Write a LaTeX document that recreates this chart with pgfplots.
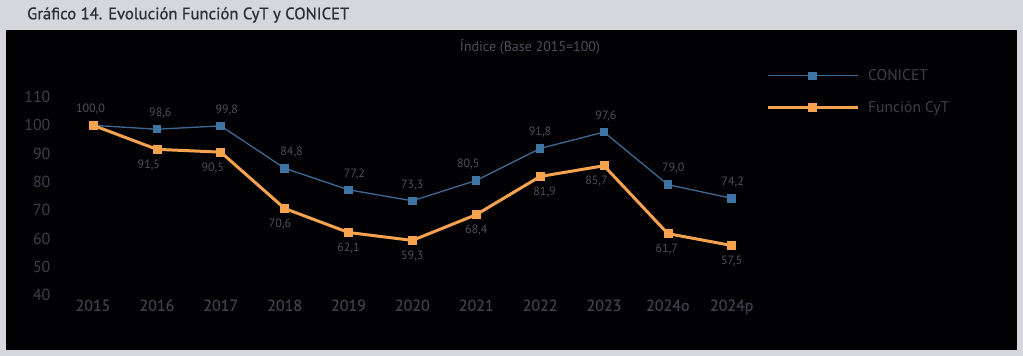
\documentclass[border=0pt]{standalone}
\usepackage{fontspec}
\setmainfont{PT Sans}
\usepackage{pgfplots}
\usepackage{pgfplotstable}
\pgfplotsset{compat=1.18}
\definecolor{framegray}{HTML}{D6D7DC}
\definecolor{titletxt}{HTML}{2C2E36}
\definecolor{panel}{HTML}{020204}
\definecolor{ticktxt}{HTML}{3E3E48}
\definecolor{lbltxt}{HTML}{4E4E58}
\definecolor{conicet}{HTML}{3D6994}
\definecolor{conicetm}{HTML}{4074A4}
\definecolor{cyt}{HTML}{F6A24E}
\pgfplotstableread{
x conicet dx
0 100.0 -2.5
1 98.6 3.5
2 99.8 6
3 84.8 7
4 77.2 6
5 73.3 0
6 80.5 -8
7 91.8 0
8 97.6 2
9 79.0 5.5
10 74.2 1
}\conicettable
\pgfplotstableread{
x cyt
0 100.0
1 91.5
2 90.5
3 70.6
4 62.1
5 59.3
6 68.4
7 81.9
8 85.7
9 61.7
10 57.5
}\cyttable
\pgfplotstableread{
x cyt dx
1 91.5 -8
2 90.5 -8
3 70.6 -4.5
4 62.1 0
5 59.3 0
6 68.4 0
7 81.9 4.5
8 85.7 -7.5
9 61.7 -1
10 57.5 0
}\cytlabels
\begin{document}
\begin{tikzpicture}[x=1pt,y=1pt]
\fill[framegray] (0,0) rectangle (1023,356);
\fill[panel] (5.5,6) rectangle (1017,326);
\node[anchor=west, text=titletxt, font=\fontsize{16.6}{18}\selectfont\addfontfeature{FakeBold=0.8}, inner sep=0] at (27,341) {Gráfico 14. Evolución Función CyT y CONICET};
\node[text=lbltxt, font=\fontsize{14}{16}\selectfont, inner sep=0] at (530,309) {Índice (Base 2015=100)};
\begin{axis}[
  at={(93pt,61pt)}, anchor=south west,
  scale only axis, width=638.7pt, height=198pt,
  xmin=0, xmax=10, ymin=40, ymax=110,
  axis line style={draw=none},
  major tick length=0pt,
  xtick={0,...,10},
  xticklabels={2015,2016,2017,2018,2019,2020,2021,2022,2023,2024o,2024p},
  ytick={40,50,...,110},
  ticklabel style={text=ticktxt, font=\fontsize{16}{18}\selectfont},
  xticklabel style={font=\fontsize{16}{18}\selectfont\addfontfeature{FakeBold=0.8}, yshift=-1pt},
  yticklabel style={xshift=-39pt},
  /pgf/number format/assume math mode=true,
  clip=false,
  legend style={at={(1.0537,1.15)}, anchor=north west, draw=none, fill=none,
     text=ticktxt, font=\fontsize{15.5}{17}\selectfont, row sep=15pt, inner sep=0pt,
     cells={anchor=west}},
  legend image code/.code={\draw[#1, mark repeat=2, mark phase=2] plot coordinates {(0pt,0pt) (45pt,0pt) (90pt,0pt)}; \path (97pt,0pt);},
  nodes near coords style={text=lbltxt, font=\fontsize{12}{14}\selectfont},
]
\addplot[conicet, line width=1.3pt, mark=square*, mark size=3.6pt,
  mark options={fill=conicetm, draw=conicetm},
  visualization depends on={\thisrow{dx} \as \dx},
  nodes near coords={\pgfmathprintnumber[fixed,fixed zerofill,precision=1,use comma]{\pgfplotspointmeta}},
  every node near coord/.append style={anchor=south, yshift=7pt, xshift=\dx}]
  table[x=x, y=conicet] {\conicettable};
\addlegendentry{CONICET}
\addplot[cyt, line width=3pt, mark=square*, mark size=4pt,
  mark options={fill=cyt, draw=cyt, line width=0.5pt}]
  table[x=x, y=cyt] {\cyttable};
\addlegendentry{Función CyT}
\addplot[draw=none, mark=none,
  visualization depends on={\thisrow{dx} \as \dx},
  nodes near coords={\pgfmathprintnumber[fixed,fixed zerofill,precision=1,use comma]{\pgfplotspointmeta}},
  every node near coord/.append style={anchor=north, yshift=-7pt, xshift=\dx}, forget plot]
  table[x=x, y=cyt] {\cytlabels};
\end{axis}
\pgfresetboundingbox
\path (0,0) rectangle (1023,356);
\end{tikzpicture}
\end{document}
